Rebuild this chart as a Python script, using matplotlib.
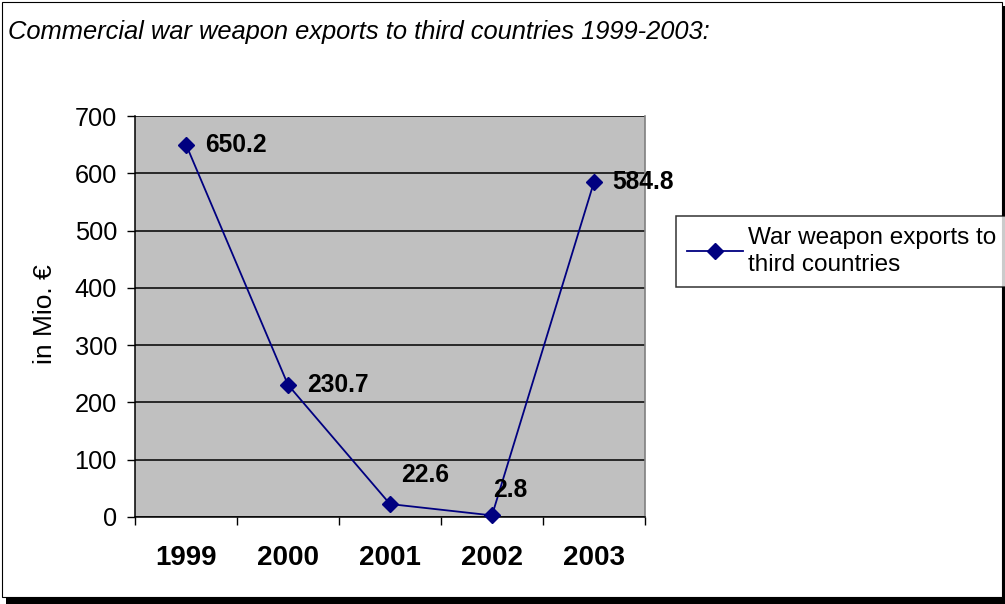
import matplotlib.pyplot as plt
from matplotlib.patches import Rectangle

plt.rcParams['font.family'] = ['Liberation Sans', 'DejaVu Sans']

years = ['1999', '2000', '2001', '2002', '2003']
exports = [650.2, 230.7, 22.6, 2.8, 584.8]
yticks = [0, 100, 200, 300, 400, 500, 600, 700]
# label offsets in points (dx, dy) for the value annotations
label_offsets = [(13.5, 0), (13.5, 0), (8, 21), (1, 18), (13.5, 0)]

W, H = 1005, 604
fig = plt.figure(figsize=(W / 100, H / 100), dpi=100)

# outer frame with drop shadow
fig.patches.append(Rectangle((6 / W, 0), (W - 6) / W, (H - 6) / H, transform=fig.transFigure,
                             facecolor='black', edgecolor='none', zorder=0))
fig.patches.append(Rectangle((1.5 / W, 7.5 / H), 1000 / W, 595 / H, transform=fig.transFigure,
                             facecolor='white', edgecolor='black', linewidth=0.8, zorder=1))

ax = fig.add_axes([135 / W, (H - 517) / H, 510 / W, 401 / H])
ax.set_zorder(2)
ax.set_facecolor('#C0C0C0')

x = list(range(1, len(years) + 1))
line, = ax.plot(x, exports, color='#000080', linewidth=1.3, marker='D', markersize=8,
                label='War weapon exports to\nthird countries', zorder=3, clip_on=False)

for xi, v, (dx, dy) in zip(x, exports, label_offsets):
    ax.annotate(f'{v:.1f}', (xi, v), xytext=(dx, dy), textcoords='offset points',
                fontsize=17.7, fontweight='bold', va='center', ha='left', zorder=5)

ax.set_xlim(0.5, len(years) + 0.5)
ax.set_ylim(0, 700)
ax.set_yticks(yticks)
ax.yaxis.grid(True, color='black', linewidth=1.1)
ax.set_axisbelow(True)

ax.set_xticks(x)
ax.set_xticklabels(years, fontsize=20, fontweight='bold')
ax.set_xticks([i + 0.5 for i in range(len(years) + 1)], minor=True)
ax.tick_params(axis='x', which='major', length=0, pad=20)
ax.tick_params(axis='x', which='minor', length=6, width=1, direction='out')
ax.tick_params(axis='y', labelsize=18.3, length=6, width=1, pad=7)

ax.spines['top'].set_visible(False)
ax.spines['right'].set_color('#808080')
ax.spines['right'].set_linewidth(1.2)
for s in ['left', 'bottom']:
    ax.spines[s].set_linewidth(1.1)

ax.set_ylabel('in Mio. €', fontsize=19)
ax.yaxis.set_label_coords(-0.152, 0.505)

fig.text(8 / W, 1 - 32 / H, 'Commercial war weapon exports to third countries 1999-2003:',
         fontsize=18.4, style='italic', va='center', ha='left', zorder=3)

leg = fig.legend(handles=[line], loc='upper left', bbox_to_anchor=(676 / W, 1 - 216 / H),
                 fontsize=17.5, frameon=True, fancybox=False, edgecolor='black',
                 borderpad=0.45, handlelength=2.3, handletextpad=0.2, borderaxespad=0)
leg.get_frame().set_linewidth(1.1)
leg.get_texts()[0].set_linespacing(1.3)
leg.set_zorder(4)

fig.savefig('out.png', dpi=100)
